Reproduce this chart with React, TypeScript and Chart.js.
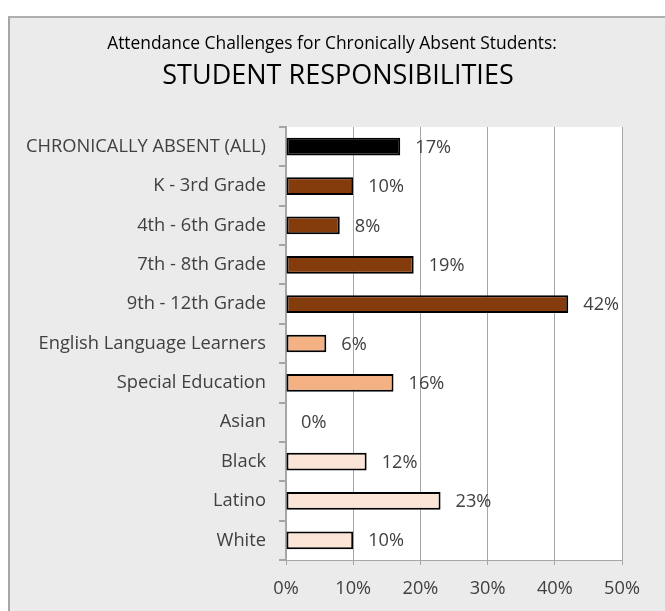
import React, { useEffect, useRef } from "react";
import { Chart, registerables } from "chart.js";

Chart.register(...registerables);

const categories = [
  "CHRONICALLY ABSENT (ALL)",
  "K - 3rd Grade",
  "4th - 6th Grade",
  "7th - 8th Grade",
  "9th - 12th Grade",
  "English Language Learners",
  "Special Education",
  "Asian",
  "Black",
  "Latino",
  "White",
];
const values = [17, 10, 8, 19, 42, 6, 16, 0, 12, 23, 10];
const barColors = [
  "#000000",
  "#843C0C",
  "#843C0C",
  "#843C0C",
  "#843C0C",
  "#F4B183",
  "#F4B183",
  "#FBE5D6",
  "#FBE5D6",
  "#FBE5D6",
  "#FBE5D6",
];
const xTicks = [0, 10, 20, 30, 40, 50];
const titleLine1 = "Attendance Challenges for Chronically Absent Students:";
const titleLine2 = "STUDENT RESPONSIBILITIES";

const FONT = "'Open Sans'";

export default function App() {
  const ref = useRef<HTMLCanvasElement | null>(null);

  useEffect(() => {
    const canvas = ref.current;
    if (!canvas) return;

    const bgPlugin = {
      id: "bgPlugin",
      beforeDraw(chart: any) {
        const { ctx, chartArea } = chart;
        ctx.save();
        ctx.fillStyle = "#ffffff";
        ctx.fillRect(chartArea.left, chartArea.top, chartArea.right - chartArea.left, chartArea.bottom - chartArea.top);
        ctx.restore();
      },
    };

    const titlePlugin = {
      id: "titlePlugin",
      afterDraw(chart: any) {
        const { ctx } = chart;
        ctx.save();
        ctx.fillStyle = "#000000";
        ctx.textAlign = "center";
        ctx.textBaseline = "alphabetic";
        ctx.font = `17.4px ${FONT}`;
        ctx.fillText(titleLine1, 332, 49);
        ctx.font = `27px ${FONT}`;
        ctx.fillText(titleLine2, 338, 84);
        ctx.restore();
      },
    };

    const labelPlugin = {
      id: "labelPlugin",
      afterDatasetsDraw(chart: any) {
        const { ctx } = chart;
        const meta = chart.getDatasetMeta(0);
        ctx.save();
        ctx.fillStyle = "#404040";
        ctx.font = `18.2px ${FONT}`;
        ctx.textAlign = "left";
        ctx.textBaseline = "middle";
        meta.data.forEach((el: any, i: number) => {
          ctx.fillText(values[i] + "%", el.x + 15, el.y + 1);
        });
        ctx.restore();
      },
    };

    const chart = new Chart(canvas, {
      type: "bar",
      data: {
        labels: categories,
        datasets: [
          {
            data: values,
            backgroundColor: barColors,
            borderColor: "#000000",
            borderWidth: 2,
            borderSkipped: false,
            barPercentage: 0.45,
            categoryPercentage: 1,
          },
        ],
      },
      options: {
        indexAxis: "y",
        responsive: false,
        animation: false,
        layout: { padding: { left: 0, top: 127, right: 43, bottom: 0 } },
        plugins: {
          legend: { display: false },
          title: { display: false },
          tooltip: { enabled: false },
        },
        scales: {
          x: {
            min: 0,
            max: 50,
            afterFit(scale: any) {
              scale.height = 51;
            },
            afterBuildTicks(scale: any) {
              scale.ticks = xTicks.map((v) => ({ value: v }));
            },
            ticks: {
              color: "#404040",
              font: { family: FONT, size: 18.2 },
              padding: 13,
              callback: (v: any) => v + "%",
            },
            grid: {
              color: "#a6a6a6",
              lineWidth: 1,
              drawTicks: true,
              tickLength: 5,
            },
            border: { color: "#a6a6a6", width: 1 },
          },
          y: {
            afterFit(scale: any) {
              scale.width = 286;
            },
            ticks: {
              color: "#404040",
              font: { family: FONT, size: 18.3 },
              padding: 13,
            },
            grid: {
              offset: true,
              drawOnChartArea: false,
              drawTicks: true,
              tickLength: 7,
              color: "#a6a6a6",
              lineWidth: 2,
            },
            border: { color: "#a6a6a6", width: 2 },
          },
        },
      },
      plugins: [bgPlugin, titlePlugin, labelPlugin],
    });

    return () => chart.destroy();
  }, []);

  return (
    <div style={{ position: "absolute", left: 0, top: 0, width: 665, height: 611, overflow: "hidden", background: "#ffffff" }}>
      <div
        style={{
          position: "absolute",
          left: 8,
          top: 16,
          width: 700,
          height: 650,
          background: "#ebebeb",
          borderLeft: "2px solid #a6a6a6",
          borderTop: "2px solid #b0b0b0",
        }}
      />
      <canvas ref={ref} width={665} height={611} style={{ position: "absolute", left: 0, top: 0, display: "block" }} />
    </div>
  );
}
